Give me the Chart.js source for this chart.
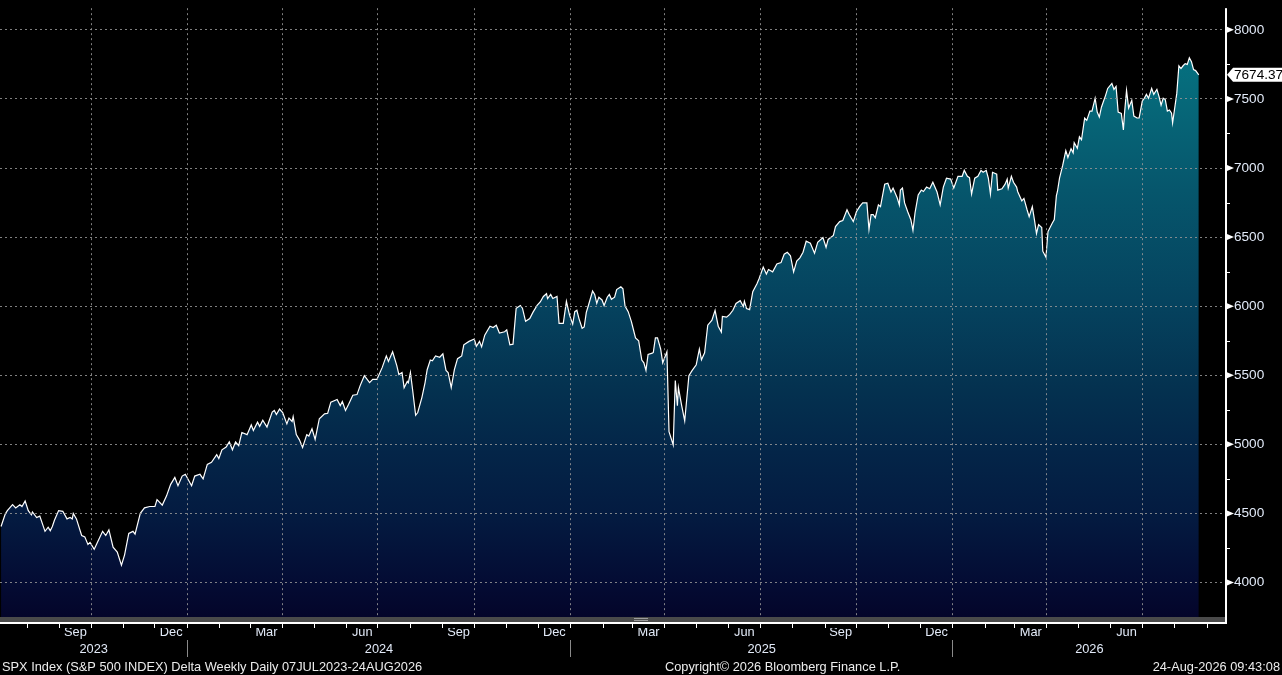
<!DOCTYPE html>
<html>
<head>
<meta charset="utf-8">
<script src="https://cdn.jsdelivr.net/npm/chart.js@4/dist/chart.umd.min.js"></script>
<style>
  html, body { margin: 0; padding: 0; background: #000; }
  canvas { display: block; }
</style>
</head>
<body>
<canvas id="spx" width="1282" height="675"></canvas>
<script>
// calendar days counted from 07 Jul 2023 (first close on the chart)
const START = Date.UTC(2023, 6, 7);
const dayOf = (y, m, d) => (Date.UTC(y, m - 1, d) - START) / 86400000;

const days = [
  0,4,6,11,14,18,20,23,26,29,
  30,34,37,42,45,47,49,51,55,59,
  63,66,68,69,72,77,80,83,85,89,
  92,97,100,103,107,111,115,118,122,126,
  128,133,137,142,147,149,154,158,162,166,
  169,173,176,182,185,190,193,197,201,206,
  208,211,215,218,221,224,227,230,235,239,
  241,245,247,250,254,259,261,263,266,269,
  273,275,278,279,282,285,288,292,294,297,
  300,304,309,312,315,321,324,326,329,332,
  336,340,343,347,352,355,359,364,368,370,
  374,378,380,383,385,388,389,391,393,396,
  398,402,405,407,410,412,415,419,422,425,
  427,430,433,436,440,442,447,452,454,457,
  459,462,467,470,473,476,481,483,486,489,
  492,496,498,501,505,508,512,515,518,521,
  522,525,527,531,533,537,540,543,546,548,
  550,552,555,557,559,561,565,567,569,571,
  574,576,579,581,583,586,588,592,594,596,
  599,602,603,606,609,612,614,616,618,622,
  623,625,627,630,632,636,638,642,644,646,
  647,650,653,657,660,664,667,669,672,675,
  679,682,685,688,689,693,696,699,702,706,
  709,710,712,715,718,722,724,728,731,733,
  737,741,745,748,751,754,757,760,763,766,
  769,773,777,780,785,788,790,795,797,801,
  804,808,810,814,817,820,823,827,829,831,
  833,835,838,840,844,847,850,852,856,858,
  859,861,863,866,869,871,873,876,879,881,
  884,887,890,894,897,900,903,907,910,914,
  918,920,923,925,927,930,933,936,938,941,
  943,945,947,951,952,956,959,961,962,965,
  967,970,971,975,977,980,982,985,987,989,
  991,994,995,998,1000,1004,1006,1008,1009,1011,
  1014,1017,1019,1022,1024,1025,1028,1030,1032,1035,
  1037,1040,1042,1045,1047,1049,1051,1053,1055,1057,
  1061,1063,1065,1067,1070,1072,1073,1075,1077,1080,
  1082,1085,1087,1090,1092,1094,1096,1099,1101,1104,
  1106,1108,1110,1112,1114,1116,1118,1119,1121,1123,
  1125,1127,1129,1131,1133,1135,1137,1139,1141,1144
];

const closes = [
  4405,4495,4520,4563,4540,4563,4550,4590,4520,4490,
  4510,4470,4480,4370,4400,4375,4405,4450,4520,4515,
  4460,4470,4460,4500,4460,4340,4330,4275,4290,4240,
  4290,4370,4340,4380,4255,4220,4125,4200,4355,4370,
  4350,4500,4540,4550,4550,4600,4560,4625,4710,4760,
  4700,4770,4783,4700,4770,4783,4750,4855,4870,4925,
  4897,4960,4980,5018,4960,5018,4990,5085,5070,5140,
  5100,5160,5130,5175,5125,5233,5245,5215,5255,5230,
  5148,5190,5165,5200,5070,5032,4977,5070,5060,5112,
  5035,5185,5220,5225,5305,5325,5280,5310,5245,5290,
  5355,5360,5425,5497,5447,5470,5470,5555,5640,5600,
  5670,5570,5505,5520,5410,5455,5445,5520,5400,5210,
  5230,5340,5447,5540,5610,5605,5640,5630,5655,5535,
  5520,5410,5540,5620,5640,5720,5745,5762,5710,5745,
  5705,5790,5855,5845,5862,5805,5815,5828,5720,5725,
  5985,6005,5985,5890,5910,5955,6005,6030,6070,6090,
  6055,6085,6055,6070,5875,5875,6035,5935,5870,5960,
  5970,5910,5840,5850,5955,6005,6110,6085,6020,6065,
  6045,6005,6065,6085,6050,6065,6120,6140,6125,6000,
  5960,5890,5860,5770,5750,5610,5590,5535,5650,5660,
  5665,5770,5770,5690,5590,5670,5092,4995,5462,5280,
  5410,5283,5170,5497,5533,5576,5690,5612,5662,5862,
  5898,5970,5855,5812,5926,5920,5940,5970,6020,6040,
  5998,6035,5983,5975,6105,6162,6198,6283,6233,6265,
  6248,6305,6315,6376,6390,6365,6248,6326,6350,6390,
  6470,6455,6383,6462,6497,6426,6483,6512,6576,6612,
  6620,6698,6665,6612,6683,6720,6747,6747,6555,6662,
  6662,6640,6733,6720,6883,6890,6826,6855,6783,6733,
  6840,6855,6747,6683,6626,6548,6676,6805,6840,6830,
  6862,6850,6897,6826,6733,6862,6926,6920,6855,6940,
  6940,6983,6940,6930,6812,6926,6940,6983,6970,6983,
  6926,6812,6969,6955,6840,6850,6883,6919,6855,6940,
  6897,6862,6830,6762,6780,6698,6648,6720,6626,6526,
  6590,6569,6398,6355,6540,6600,6626,6800,6830,6926,
  7019,7126,7076,7140,7110,7183,7143,7226,7205,7362,
  7345,7412,7412,7505,7405,7369,7440,7483,7526,7576,
  7612,7569,7590,7405,7395,7276,7390,7562,7433,7490,
  7376,7362,7362,7483,7505,7533,7505,7576,7533,7569,
  7519,7455,7505,7495,7412,7420,7397,7326,7433,7540,
  7740,7720,7740,7755,7750,7798,7770,7712,7705,7674.37
];

// month labels shown under the axis (one per quarter)
const quarterLabels = ['2023-09','2023-12','2024-03','2024-06','2024-09','2024-12',
                       '2025-03','2025-06','2025-09','2025-12','2026-03','2026-06'];
const monthNames = ['Jan','Feb','Mar','Apr','May','Jun','Jul','Aug','Sep','Oct','Nov','Dec'];
const years = [2023, 2024, 2025, 2026];
const priceTicks = [4000, 4500, 5000, 5500, 6000, 6500, 7000, 7500, 8000];

const footerLeft = 'SPX Index (S&P 500 INDEX) Delta Weekly Daily 07JUL2023-24AUG2026';
const footerMid = 'Copyright\u00A9 2026 Bloomberg Finance L.P.';
const footerRight = '24-Aug-2026 09:43:08';

const X_MIN = -1, X_MAX = 1170;
const FAMILY = '"Liberation Sans", Arial, sans-serif';
const FONT = { family: FAMILY, size: 12.8 };
const YFONT = { family: FAMILY, size: 13.6 };
const TXT = '#e2eaf8';
const GRID = 'rgba(150,150,150,0.85)';
const NONE = 'rgba(0,0,0,0)';

function monthStarts() {
  const out = [];
  for (let y = 2023; y <= 2026; y++) {
    for (let m = 1; m <= 12; m++) {
      const v = dayOf(y, m, 1);
      if (v > X_MIN && v < X_MAX) out.push({ value: v, q: m % 3 === 1 });
    }
  }
  return out;
}

function quarterTicks() {
  return quarterLabels.map(s => {
    const y = +s.slice(0, 4), m = +s.slice(5, 7);
    const a = dayOf(y, m, 1);
    const b = m === 12 ? dayOf(y + 1, 1, 1) : dayOf(y, m + 1, 1);
    return { value: (a + b) / 2, name: monthNames[m - 1] };
  });
}

function yearTicks() {
  const out = [];
  years.forEach(y => {
    const lo = Math.max(X_MIN, dayOf(y, 1, 1));
    const hi = Math.min(X_MAX, dayOf(y + 1, 1, 1));
    out.push({ value: (lo + hi) / 2, name: String(y) });
    if (dayOf(y, 1, 1) > X_MIN) out.push({ value: dayOf(y, 1, 1), name: '', sep: true });
  });
  return out.sort((a, b) => a.value - b.value);
}

const points = days.map((d, i) => ({ x: d, y: closes[i] }));

function areaFill(context) {
  const chart = context.chart;
  const a = chart.chartArea;
  if (!a) return NONE;
  const g = chart.ctx.createLinearGradient(0, a.top, 0, a.bottom);
  g.addColorStop(0.00, 'rgb(0,120,135)');
  g.addColorStop(0.12, 'rgb(6,108,124)');
  g.addColorStop(0.30, 'rgb(6,86,108)');
  g.addColorStop(0.49, 'rgb(5,66,94)');
  g.addColorStop(0.62, 'rgb(4,50,80)');
  g.addColorStop(0.73, 'rgb(4,37,72)');
  g.addColorStop(0.84, 'rgb(4,26,64)');
  g.addColorStop(0.94, 'rgb(4,12,52)');
  g.addColorStop(1.00, 'rgb(4,5,42)');
  return g;
}

// scroll band, axis lines, y tick arrows, last value flag, footer
const decor = {
  id: 'decor',
  afterDraw(chart) {
    const { ctx, chartArea: a, scales } = chart;
    const y = scales.y;
    ctx.save();
    ctx.fillStyle = '#4a4a4a';
    ctx.fillRect(0, a.bottom, a.right + 1, 5);
    ctx.fillStyle = '#9c9c9c';
    ctx.fillRect(634, a.bottom + 1, 14, 1);
    ctx.fillRect(634, a.bottom + 3, 14, 1);
    ctx.fillStyle = '#ffffff';
    ctx.fillRect(0, a.bottom + 5, a.right + 1, 2);
    ctx.fillRect(a.right - 1, a.top, 2, a.bottom - a.top + 7);

    y.ticks.forEach(t => {
      const py = y.getPixelForValue(t.value);
      if (priceTicks.includes(t.value)) {
        ctx.beginPath();
        ctx.moveTo(a.right + 1, py - 3);
        ctx.lineTo(a.right + 8, py);
        ctx.lineTo(a.right + 1, py + 3);
        ctx.closePath();
        ctx.fill();
      } else {
        ctx.fillRect(a.right, Math.round(py), 4, 1);
      }
    });

    const last = closes[closes.length - 1];
    const ly = y.getPixelForValue(last);
    ctx.beginPath();
    ctx.moveTo(a.right + 1, ly);
    ctx.lineTo(a.right + 7, ly - 7);
    ctx.lineTo(chart.width, ly - 7);
    ctx.lineTo(chart.width, ly + 7);
    ctx.lineTo(a.right + 7, ly + 7);
    ctx.closePath();
    ctx.fill();
    ctx.fillStyle = '#000';
    ctx.font = YFONT.size + 'px ' + FAMILY;
    ctx.textBaseline = 'middle';
    ctx.textAlign = 'left';
    ctx.fillText(last.toFixed(2), a.right + 8, ly + 0.5);

    ctx.fillStyle = '#ececec';
    ctx.font = FONT.size + 'px ' + FAMILY;
    ctx.textBaseline = 'alphabetic';
    ctx.fillText(footerLeft, 2, 671);
    ctx.fillText(footerMid, 665, 671);
    ctx.textAlign = 'right';
    ctx.fillText(footerRight, chart.width - 2, 671);
    ctx.restore();
  }
};

new Chart(document.getElementById('spx').getContext('2d'), {
  type: 'line',
  data: {
    datasets: [{
      data: points,
      xAxisID: 'x',
      yAxisID: 'y',
      borderColor: '#ffffff',
      borderWidth: 1.2,
      pointRadius: 0,
      tension: 0,
      fill: 'start',
      backgroundColor: areaFill
    }]
  },
  options: {
    responsive: false,
    animation: false,
    events: [],
    layout: { padding: { left: 0, right: 0, top: 0, bottom: 17 } },
    plugins: { legend: { display: false }, tooltip: { enabled: false } },
    scales: {
      x: {
        type: 'linear', position: 'bottom', weight: 0, min: X_MIN, max: X_MAX,
        afterBuildTicks: s => { s.ticks = monthStarts(); },
        afterFit: s => { s.height = 11; },
        ticks: { display: false, autoSkip: false },
        grid: {
          z: 1,
          color: c => (c.tick && c.tick.q ? GRID : NONE),
          drawTicks: true, tickLength: 11, tickColor: '#ffffff', tickWidth: 1
        },
        border: { display: false, dash: [2, 3] }
      },
      xm: {
        type: 'linear', position: 'bottom', weight: 1, min: X_MIN, max: X_MAX,
        afterBuildTicks: s => { s.ticks = quarterTicks(); },
        afterFit: s => { s.height = 12; },
        ticks: {
          autoSkip: false, maxRotation: 0, color: TXT, font: FONT, padding: -3,
          callback: (v, i, t) => t[i].name
        },
        grid: { display: false, drawTicks: false },
        border: { display: false }
      },
      xy: {
        type: 'linear', position: 'bottom', weight: 2, min: X_MIN, max: X_MAX,
        afterBuildTicks: s => { s.ticks = yearTicks(); },
        afterFit: s => { s.height = 18; },
        ticks: {
          autoSkip: false, maxRotation: 0, color: TXT, font: FONT, padding: -15.5,
          callback: (v, i, t) => t[i].name
        },
        grid: {
          drawOnChartArea: false, drawTicks: true, tickLength: 17, color: NONE,
          tickColor: c => (c.tick && c.tick.sep ? '#8a8a8a' : NONE), tickWidth: 1
        },
        border: { display: false }
      },
      y: {
        position: 'right', min: 3750, max: 8157,
        afterBuildTicks: s => {
          const t = [];
          for (let v = 4000; v <= 8000; v += 250) t.push({ value: v });
          s.ticks = t;
        },
        afterFit: s => { s.width = 56; },
        ticks: {
          autoSkip: false, color: TXT, font: YFONT, padding: 0,
          callback: v => (priceTicks.includes(v) ? String(v) : '')
        },
        grid: {
          z: 1,
          color: c => (c.tick && priceTicks.includes(c.tick.value) ? GRID : NONE),
          drawTicks: true, tickLength: 8, tickColor: NONE
        },
        border: { display: false, dash: [2, 3] }
      }
    }
  },
  plugins: [decor]
});
</script>
</body>
</html>
